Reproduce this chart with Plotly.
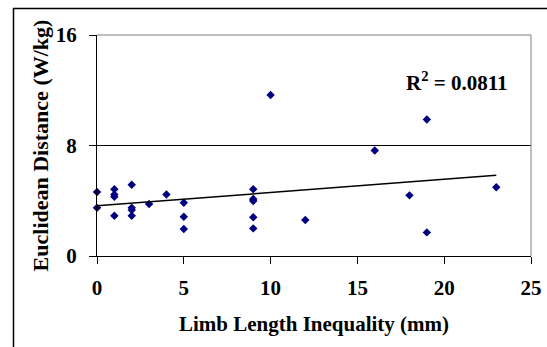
import numpy as np
import plotly.graph_objects as go

# Data
limb_length_mm = [0, 0, 1, 1, 1, 1, 2, 2, 2, 2, 3, 4, 5, 5, 5,
                  9, 9, 9, 9, 9, 10, 12, 16, 18, 19, 19, 23]
euclid_dist = [4.63, 3.49, 4.84, 4.46, 4.29, 2.92, 5.16, 3.49, 3.33, 2.92, 3.76, 4.46, 3.86, 2.84, 1.95,
               4.84, 4.12, 3.98, 2.80, 2.00, 11.66, 2.60, 7.64, 4.39, 9.88, 1.71, 4.97]
r2_label = "R<sup>2</sup> = 0.0811"
x_ticks = [0, 5, 10, 15, 20, 25]
y_ticks = [0, 8, 16]

FONT = "Liberation Serif, Times New Roman, serif"
FS = 21

# Linear trend line fitted from the data
slope, intercept = np.polyfit(limb_length_mm, euclid_dist, 1)
trend_x = [min(limb_length_mm), max(limb_length_mm)]
trend_y = [intercept + slope * v for v in trend_x]

fig = go.Figure()
fig.add_trace(go.Scatter(
    x=limb_length_mm, y=euclid_dist, mode="markers",
    marker=dict(symbol="diamond", size=6.5, color="#000080",
                line=dict(width=0)),
    showlegend=False, cliponaxis=False,
))
fig.add_trace(go.Scatter(
    x=trend_x, y=trend_y, mode="lines",
    line=dict(color="black", width=1.5), showlegend=False,
))

W, H = 547, 347
ml, mr, mt, mb = 97, 16, 35, 91

tfont = dict(family=FONT, size=FS, color="black", weight="bold")
ytfont = dict(family=FONT, size=22, color="black", weight="bold")

fig.update_layout(
    width=W, height=H, autosize=False,
    margin=dict(l=ml, r=mr, t=mt, b=mb, pad=0, autoexpand=False),
    paper_bgcolor="white", plot_bgcolor="white",
    font=tfont,
    xaxis=dict(
        range=[0, 25], tickvals=x_ticks, showgrid=False, zeroline=False,
        showline=True, linecolor="black", linewidth=1, automargin=False,
        ticks="outside", ticklen=7, tickcolor="black",
        tickfont=tfont, ticklabelstandoff=6,
        title=dict(text="Limb Length Inequality (mm)", font=tfont, standoff=17),
    ),
    yaxis=dict(
        range=[0, 16], tickvals=y_ticks, showgrid=True, gridcolor="black",
        gridwidth=1, zeroline=False, automargin=False,
        showline=True, linecolor="black", linewidth=1,
        ticks="outside", ticklen=7, tickcolor="black",
        tickfont=tfont, ticklabelstandoff=8,
        title=dict(text="Euclidean Distance (W/kg)", font=ytfont, standoff=1),
    ),
)

# gray top and right borders of plot area
fig.add_shape(type="line", xref="paper", yref="paper", x0=0, x1=1, y0=1, y1=1,
              line=dict(color="#808080", width=1), layer="above")
fig.add_shape(type="line", xref="paper", yref="paper", x0=1, x1=1, y0=0, y1=1,
              line=dict(color="#808080", width=1), layer="above")

# outer chart frame (left/top edges visible, rest beyond the image)
pw, ph = W - ml - mr, H - mt - mb
def px2paper_x(px):
    return (px - ml) / pw
def px2paper_y(py):
    return (H - mb - py) / ph
fig.add_shape(type="rect", xref="paper", yref="paper",
              x0=px2paper_x(13.5), x1=px2paper_x(W + 10),
              y0=px2paper_y(H + 10), y1=px2paper_y(8.5),
              line=dict(color="black", width=1.5), layer="above")

fig.add_annotation(text=r2_label, xref="paper", yref="paper",
                   x=px2paper_x(457), y=px2paper_y(81), showarrow=False,
                   xanchor="center", yanchor="middle", font=tfont)

fig.write_html("out.html", config={"displayModeBar": False},
               post_script="document.body.style.margin='0';document.body.style.overflow='hidden';")
